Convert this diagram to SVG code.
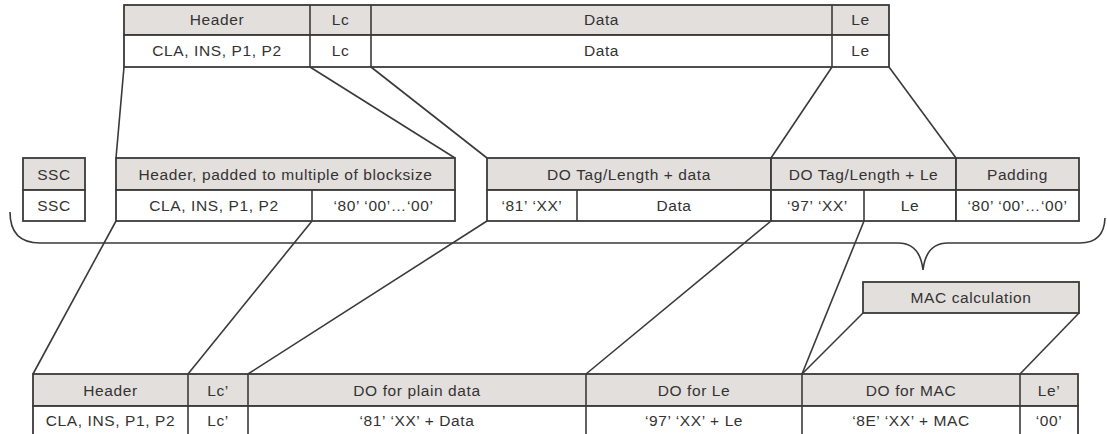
<svg xmlns="http://www.w3.org/2000/svg" width="1107" height="434" viewBox="0 0 1107 434">
<style>
.h{fill:#e3dfdc;stroke:#3a3a3a;stroke-width:1.8}
.b{fill:#ffffff;stroke:#3a3a3a;stroke-width:1.8}
.l{fill:none;stroke:#3a3a3a;stroke-width:1.6}
text{font-family:"Liberation Sans",Arial,sans-serif;font-size:15.5px;letter-spacing:0.6px;fill:#333;text-anchor:middle}
</style>
<rect width="1107" height="434" fill="#ffffff"/>
<g id="connectors">
<line class="l" x1="124" y1="67" x2="116" y2="158"/>
<line class="l" x1="310" y1="67" x2="455" y2="158"/>
<line class="l" x1="371" y1="67" x2="487" y2="158"/>
<line class="l" x1="832" y1="67" x2="771" y2="158"/>
<line class="l" x1="889" y1="67" x2="956" y2="158"/>
<line class="l" x1="116" y1="221" x2="33" y2="374"/>
<line class="l" x1="312" y1="221" x2="188" y2="374"/>
<line class="l" x1="487" y1="221" x2="248" y2="374"/>
<line class="l" x1="771" y1="221" x2="586" y2="374"/>
<line class="l" x1="864" y1="221" x2="802" y2="374"/>
<line class="l" x1="863" y1="313" x2="802" y2="374"/>
<line class="l" x1="1079" y1="313" x2="1020" y2="374"/>
<path class="l" d="M10 212 Q10 243 40 243 L898 243 Q920 243 923 270 Q926 243 948 243 L1080 243 Q1104 243 1105 218" stroke-width="2"/>
</g>
<g id="apdu">
<rect class="h" x="124" y="5" width="765" height="30"/>
<rect class="b" x="124" y="35" width="765" height="32"/>
<line class="l" x1="310" y1="5" x2="310" y2="67"/>
<line class="l" x1="371" y1="5" x2="371" y2="67"/>
<line class="l" x1="832" y1="5" x2="832" y2="67"/>
<text x="217" y="25">Header</text>
<text x="340.5" y="25">Lc</text>
<text x="601.5" y="25">Data</text>
<text x="860.5" y="25">Le</text>
<text x="217" y="56">CLA, INS, P1, P2</text>
<text x="340.5" y="56">Lc</text>
<text x="601.5" y="56">Data</text>
<text x="860.5" y="56">Le</text>
</g>
<g id="ssc">
<rect class="h" x="23" y="158" width="62" height="32"/>
<rect class="b" x="23" y="190" width="62" height="31"/>
<text x="54" y="179.5">SSC</text>
<text x="54" y="211">SSC</text>
</g>
<g id="header-padded">
<rect class="h" x="116" y="158" width="339" height="32"/>
<rect class="b" x="116" y="190" width="339" height="31"/>
<line class="l" x1="312" y1="190" x2="312" y2="221"/>
<text x="285.5" y="179.5">Header, padded to multiple of blocksize</text>
<text x="214" y="211">CLA, INS, P1, P2</text>
<text x="383.5" y="211">‘80’ ‘00’…‘00’</text>
</g>
<g id="do-data">
<rect class="h" x="487" y="158" width="284" height="32"/>
<rect class="b" x="487" y="190" width="284" height="31"/>
<line class="l" x1="577" y1="190" x2="577" y2="221"/>
<text x="629" y="179.5">DO Tag/Length + data</text>
<text x="532" y="211">‘81’ ‘XX’</text>
<text x="674" y="211">Data</text>
</g>
<g id="do-le">
<rect class="h" x="771" y="158" width="185" height="32"/>
<rect class="b" x="771" y="190" width="185" height="31"/>
<line class="l" x1="864" y1="190" x2="864" y2="221"/>
<text x="863.5" y="179.5">DO Tag/Length + Le</text>
<text x="817.5" y="211">‘97’ ‘XX’</text>
<text x="910" y="211">Le</text>
</g>
<g id="padding">
<rect class="h" x="956" y="158" width="123" height="32"/>
<rect class="b" x="956" y="190" width="123" height="31"/>
<text x="1017.5" y="179.5">Padding</text>
<text x="1017.5" y="211">‘80’ ‘00’…‘00’</text>
</g>
<g id="mac-calculation">
<rect class="h" x="863" y="282" width="216" height="31"/>
<text x="971" y="303">MAC calculation</text>
</g>
<g id="protected-apdu">
<rect class="h" x="33" y="374" width="1045" height="32"/>
<rect class="b" x="33" y="406" width="1045" height="34"/>
<line class="l" x1="188" y1="374" x2="188" y2="440"/>
<line class="l" x1="248" y1="374" x2="248" y2="440"/>
<line class="l" x1="586" y1="374" x2="586" y2="440"/>
<line class="l" x1="802" y1="374" x2="802" y2="440"/>
<line class="l" x1="1020" y1="374" x2="1020" y2="440"/>
<text x="110.5" y="395.5">Header</text>
<text x="218" y="395.5">Lc’</text>
<text x="417" y="395.5">DO for plain data</text>
<text x="694" y="395.5">DO for Le</text>
<text x="911" y="395.5">DO for MAC</text>
<text x="1049" y="395.5">Le’</text>
<text x="110.5" y="425.5">CLA, INS, P1, P2</text>
<text x="218" y="425.5">Lc’</text>
<text x="417" y="425.5">‘81’ ‘XX’ + Data</text>
<text x="694" y="425.5">‘97’ ‘XX’ + Le</text>
<text x="911" y="425.5">‘8E’ ‘XX’ + MAC</text>
<text x="1049" y="425.5">‘00’</text>
</g>
</svg>
